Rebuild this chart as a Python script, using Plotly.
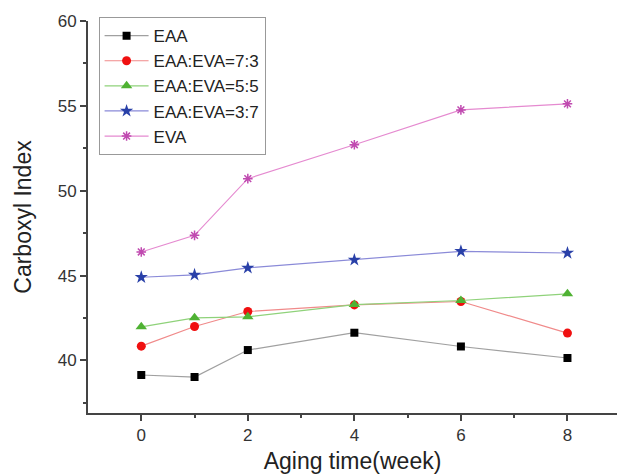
import plotly.graph_objects as go

weeks = [0, 1, 2, 4, 6, 8]
eaa = [39.14, 39.02, 40.61, 41.63, 40.82, 40.14]
eaa_eva_73 = [40.84, 42.0, 42.88, 43.27, 43.47, 41.61]
eaa_eva_55 = [41.98, 42.51, 42.57, 43.29, 43.53, 43.92]
eaa_eva_37 = [44.9, 45.04, 45.45, 45.92, 46.43, 46.33]
eva = [46.39, 47.37, 50.71, 52.71, 54.76, 55.12]

series = [
    ("EAA", eaa, "#a0a0a0", "#000000", "square", 8),
    ("EAA:EVA=7:3", eaa_eva_73, "#f08a8a", "#f01010", "circle", 9),
    ("EAA:EVA=5:5", eaa_eva_55, "#8fd27a", "#4fb233", "triangle-up", 10),
    ("EAA:EVA=3:7", eaa_eva_37, "#8a8ad8", "#2940a8", "star", 10),
    ("EVA", eva, "#e58ad0", "#c04ab0", "asterisk-open", 8),
]

fig = go.Figure()
for name, ys, lc, mc, sym, sz in series:
    marker = dict(symbol=sym, size=sz, color=mc)
    if sym == "asterisk-open":
        marker["line"] = dict(color=mc, width=1.5)
    else:
        marker["line"] = dict(width=0)
    fig.add_trace(go.Scatter(
        x=weeks, y=ys, name=name, mode="lines+markers",
        line=dict(color=lc, width=1.2), marker=marker,
    ))

font = "Liberation Sans, Arial, sans-serif"
fig.update_layout(
    width=617, height=476,
    margin=dict(l=88, r=0, t=21, b=63),
    paper_bgcolor="white", plot_bgcolor="white",
    font=dict(family=font, color="#333333"),
    showlegend=True,
    legend=dict(
        x=0.02, y=1.01, xanchor="left", yanchor="top",
        bordercolor="#999999", borderwidth=1, bgcolor="white",
        font=dict(size=17, color="#222222", family=font),
        itemwidth=44, tracegroupgap=0,
    ),
    xaxis=dict(
        range=[-1, 8.93], tickvals=[0, 2, 4, 6, 8],
        showgrid=False, zeroline=False,
        showline=True, linecolor="#444444", linewidth=2,
        ticks="outside", ticklen=6, tickwidth=2, tickcolor="#444444",
        minor=dict(tickvals=[1, 3, 5, 7], ticks="outside", ticklen=3, tickwidth=2, tickcolor="#444444"),
        tickfont=dict(size=17, color="#333333"),
        title=dict(text="Aging time(week)", font=dict(size=23, color="#222222"), standoff=8),
    ),
    yaxis=dict(
        range=[36.9, 60], tickvals=[40, 45, 50, 55, 60],
        showgrid=False, zeroline=False,
        showline=True, linecolor="#444444", linewidth=2,
        ticks="outside", ticklen=6, tickwidth=2, tickcolor="#444444",
        minor=dict(tickvals=[37.5, 42.5, 47.5, 52.5, 57.5], ticks="outside", ticklen=3, tickwidth=2, tickcolor="#444444"),
        tickfont=dict(size=17, color="#333333"),
        title=dict(text="Carboxyl Index", font=dict(size=23, color="#222222"), standoff=20),
    ),
)

fig.write_html("out.html")
